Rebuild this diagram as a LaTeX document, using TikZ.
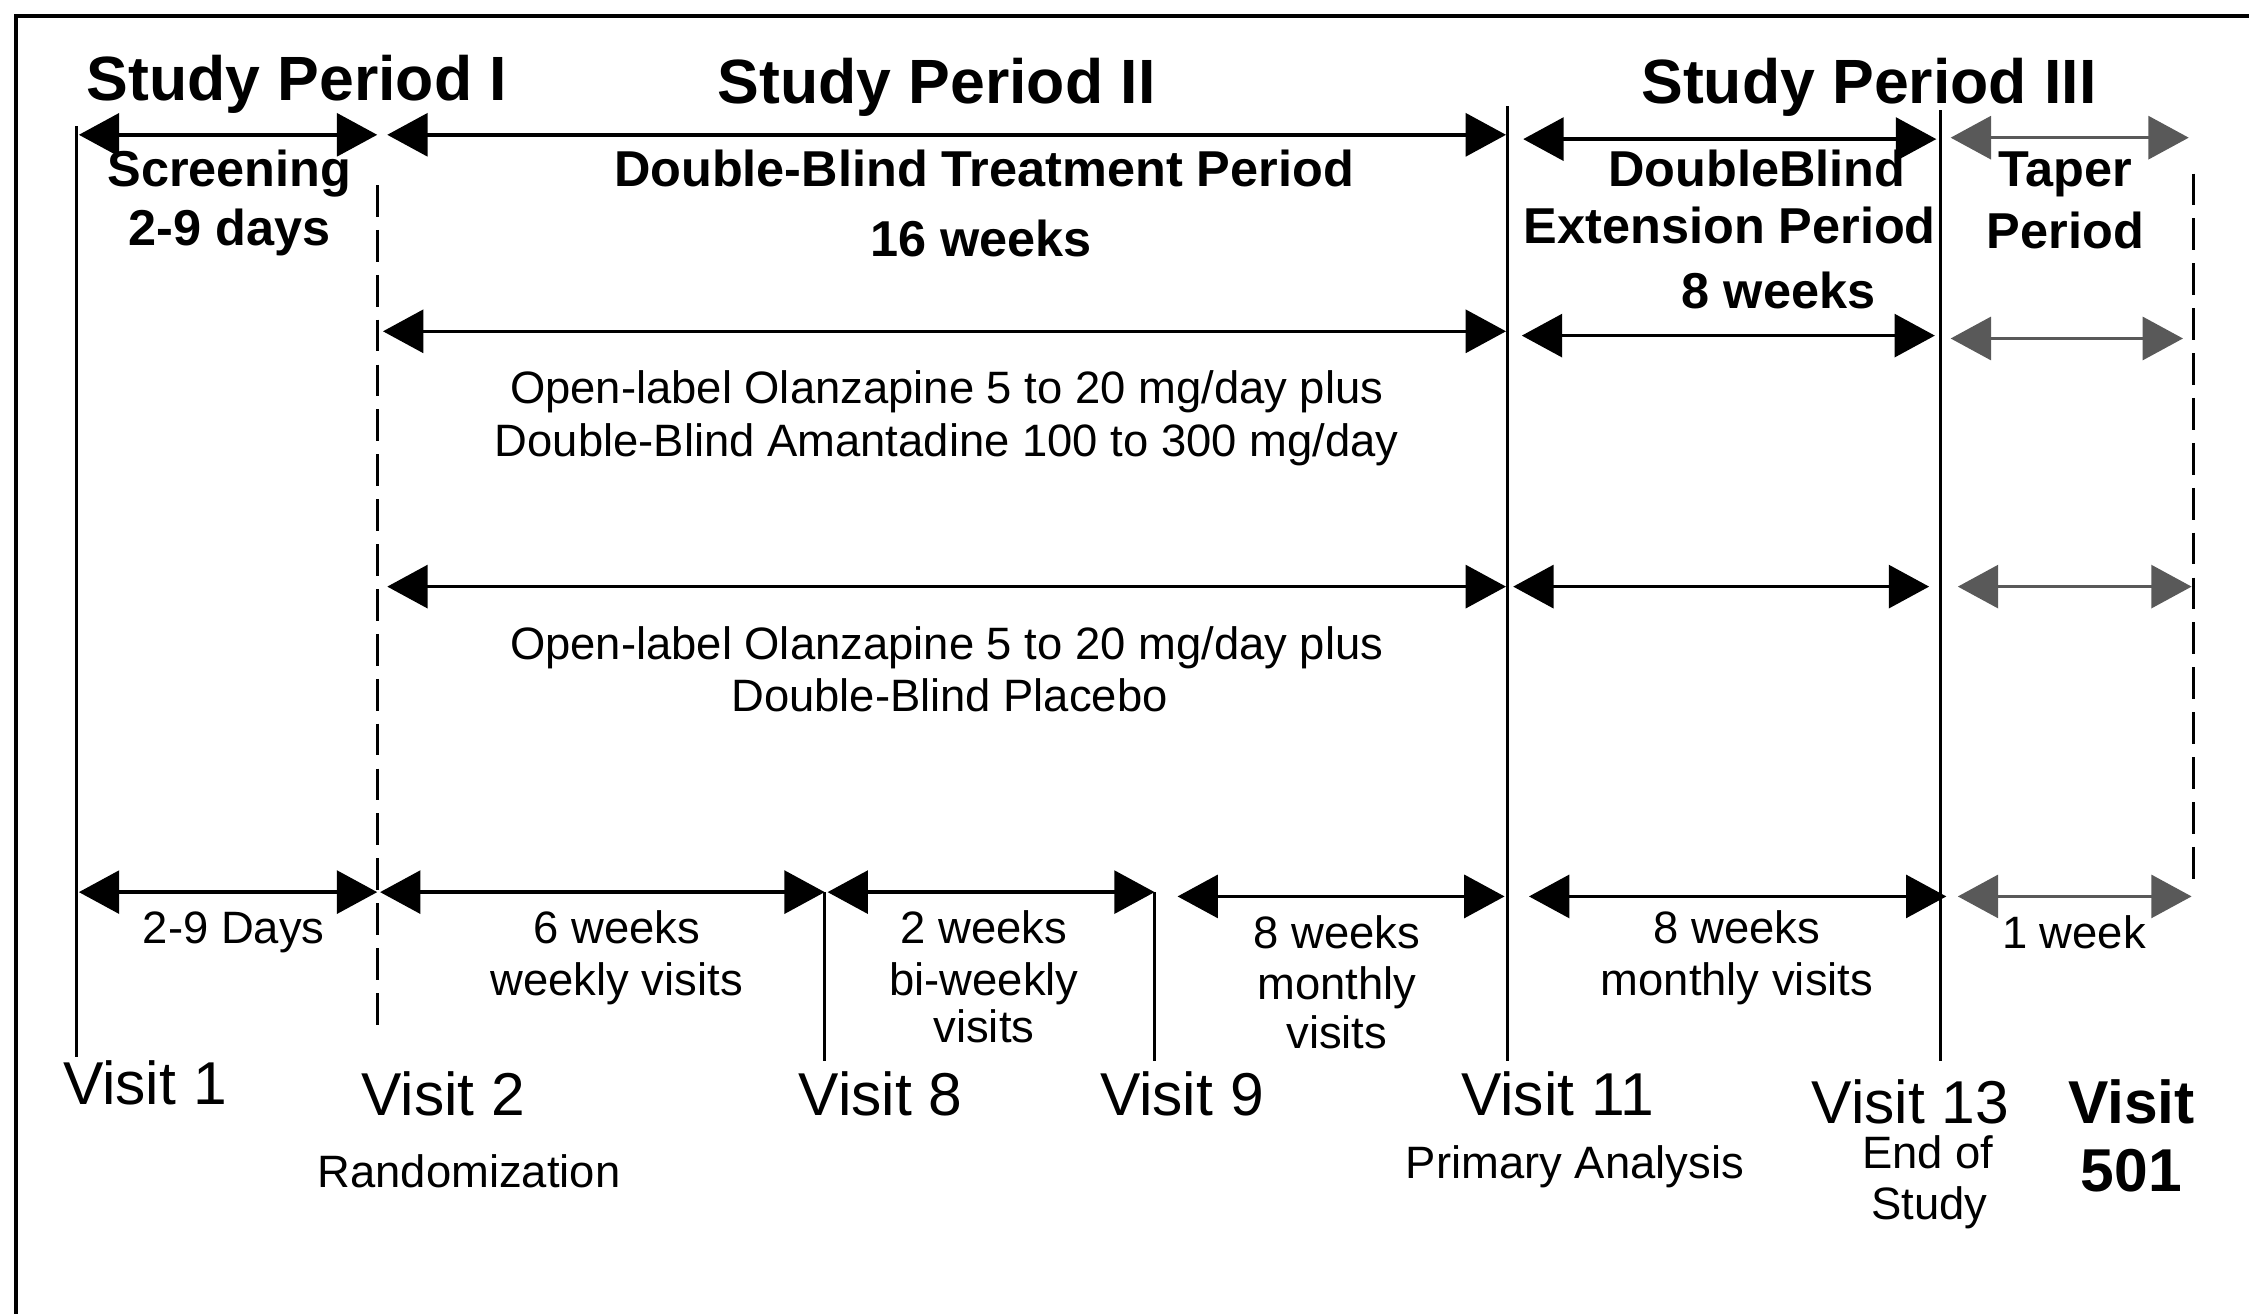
\documentclass[tikz,border=0pt]{standalone}
\usepackage{fontspec}
\setmainfont{Liberation Sans}
\usetikzlibrary{arrows.meta}

\begin{document}
\begin{tikzpicture}[
    x=0.01cm, y=-0.01cm,
    period/.style={anchor=base, font=\fontsize{12.4}{14}\selectfont\bfseries},
    phase/.style={anchor=base, font=\fontsize{10}{12}\selectfont\bfseries},
    note/.style={anchor=base, font=\fontsize{9}{11}\selectfont},
    visit/.style={anchor=base, font=\fontsize{12}{14}\selectfont},
    lastvisit/.style={visit, font=\fontsize{12}{14}\selectfont\bfseries},
    span/.style={{Triangle[length=8pt,width=8.5pt]}-{Triangle[length=8pt,width=8.5pt]}, line width=0.7pt},
    taper/.style={span, draw=black!65},
    visitline/.style={line width=0.6pt},
    dashline/.style={visitline, dash pattern=on 6.3pt off 2.6pt}
  ]

  \useasboundingbox (0,0) rectangle (1568,916);
  \draw[line width=0.7pt] (11,916) -- (11,11) -- (1568,11);

  % visit lines
  \draw[visitline] (53,88) -- (53,737);
  \draw[dashline] (263,129) -- (263,720);
  \draw[visitline] (575,622) -- (575,740);
  \draw[visitline] (805,622) -- (805,740);
  \draw[visitline] (1051,74) -- (1051,740);
  \draw[visitline] (1353,77) -- (1353,740);
  \draw[dashline] (1529,121) -- (1529,617);

  % arrow ends
  \foreach \n/\x/\y in {scrL/55/94, scrR/263/94, dbtL/270/94, dbtR/1050/94,
      extL/1062/97, extR/1350/97, tapL/1360/96, tapR/1526/96,
      amaL/267/231, amaR/1050/231, amaxL/1061/234, amaxR/1349/234,
      amatL/1360/236, amatR/1522/236,
      plaL/270/409, plaR/1050/409, plaxL/1055/409, plaxR/1345/409,
      platL/1365/409, platR/1528/409,
      dayL/55/622, dayR/263/622, wkL/265/622, wkR/575/622,
      biL/577/622, biR/805/622, moL/821/625, moR/1049/625,
      mxL/1066/625, mxR/1357/625, onL/1365/625, onR/1528/625}
    \coordinate (\n) at (\x,\y);

  \draw[span] (scrL) -- (scrR);
  \draw[span] (dbtL) -- (dbtR);
  \draw[span] (extL) -- (extR);
  \draw[taper] (tapL) -- (tapR);
  \draw[span] (amaL) -- (amaR);
  \draw[span] (amaxL) -- (amaxR);
  \draw[taper] (amatL) -- (amatR);
  \draw[span] (plaL) -- (plaR);
  \draw[span] (plaxL) -- (plaxR);
  \draw[taper] (platL) -- (platR);
  \draw[span] (dayL) -- (dayR);
  \draw[span] (wkL) -- (wkR);
  \draw[span] (biL) -- (biR);
  \draw[span] (moL) -- (moR);
  \draw[span] (mxL) -- (mxR);
  \draw[taper] (onL) -- (onR);

  % periods
  \node[period] (sp1) at (207,70) {Study Period I};
  \node[period] (sp2) at (653,72) {Study Period II};
  \node[period] (sp3) at (1303,72) {Study Period III};

  \node[phase] (scr1) at (160,130) {Screening};
  \node[phase] (scr2) at (160,171) {2-9 days};
  \node[phase] (dbt1) at (686,130) {Double-Blind Treatment Period};
  \node[phase] (dbt2) at (684,179) {16 weeks};
  \node[phase] (ext1) at (1225,130) {DoubleBlind};
  \node[phase] (ext2) at (1206,170) {Extension Period};
  \node[phase] (ext3) at (1240,215) {8 weeks};
  \node[phase] (tap1) at (1440,130) {Taper};
  \node[phase] (tap2) at (1440,173) {Period};

  % arms
  \node[note] (ola1) at (660,281) {Open-label Olanzapine 5 to 20 mg/day plus};
  \node[note] (ama) at (660,318) {Double-Blind Amantadine 100 to 300 mg/day};
  \node[note] (ola2) at (660,460) {Open-label Olanzapine 5 to 20 mg/day plus};
  \node[note] (pla) at (662,496) {Double-Blind Placebo};

  % intervals
  \node[note] (d29) at (163,658) {2-9 Days};
  \node[note] (w6a) at (430,658) {6 weeks};
  \node[note] (w6b) at (430,694) {weekly visits};
  \node[note] (w2a) at (686,658) {2 weeks};
  \node[note] (w2b) at (686,694) {bi-weekly};
  \node[note] (w2c) at (686,727) {visits};
  \node[note] (m8a) at (932,661) {8 weeks};
  \node[note] (m8b) at (932,697) {monthly};
  \node[note] (m8c) at (932,731) {visits};
  \node[note] (e8a) at (1211,658) {8 weeks};
  \node[note] (e8b) at (1211,694) {monthly visits};
  \node[note] (w1) at (1446,661) {1 week};

  % visits
  \node[visit] (v1) at (101,770) {Visit 1};
  \node[visit] (v2) at (309,778) {Visit 2};
  \node[note] (rand) at (327,828) {Randomization};
  \node[visit] (v8) at (614,778) {Visit 8};
  \node[visit] (v9) at (824,778) {Visit 9};
  \node[visit] (v11) at (1086,778) {Visit 11};
  \node[note] (prim) at (1098,822) {Primary Analysis};
  \node[visit] (v13) at (1332,783) {Visit 13};
  \node[note] (eos1) at (1344,815) {End of};
  \node[note] (eos2) at (1345,850) {Study};
  \node[lastvisit] (v501a) at (1486,783) {Visit};
  \node[lastvisit] (v501b) at (1486,831) {501};

\end{tikzpicture}
\end{document}
